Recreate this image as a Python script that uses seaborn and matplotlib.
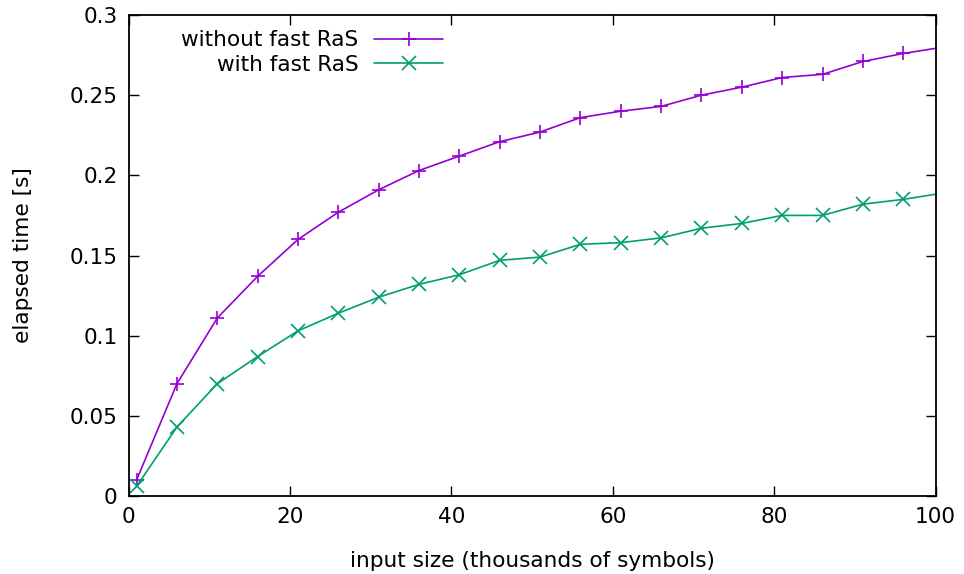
import matplotlib
matplotlib.use("Agg")
import matplotlib.pyplot as plt
import seaborn as sns
import pandas as pd

x_vals = [1, 6, 11, 16, 21, 26, 31, 36, 41, 46, 51, 56, 61, 66, 71, 76, 81, 86, 91, 96, 101]
without_fast = [0.010, 0.070, 0.111, 0.137, 0.160, 0.177, 0.191, 0.203, 0.212, 0.221, 0.227,
                0.236, 0.240, 0.243, 0.250, 0.255, 0.261, 0.263, 0.271, 0.276, 0.280]
with_fast = [0.006, 0.043, 0.070, 0.087, 0.103, 0.114, 0.124, 0.132, 0.138, 0.147, 0.149,
             0.157, 0.158, 0.161, 0.167, 0.170, 0.175, 0.175, 0.182, 0.185, 0.189]
series_names = ["without fast RaS", "with fast RaS"]
x_ticks = [0, 20, 40, 60, 80, 100]
y_ticks = [0, 0.05, 0.1, 0.15, 0.2, 0.25, 0.3]
y_tick_labels = ["0", "0.05", "0.1", "0.15", "0.2", "0.25", "0.3"]

df = pd.DataFrame({
    "x": x_vals * 2,
    "y": without_fast + with_fast,
    "series": [series_names[0]] * len(x_vals) + [series_names[1]] * len(x_vals),
})

sns.set_style("ticks")
plt.rcParams["font.family"] = ["DejaVu Sans"]
plt.rcParams["text.color"] = "black"
plt.rcParams["axes.labelcolor"] = "black"

FS = 15.6

fig = plt.figure(figsize=(9.64, 5.74), dpi=100)
ax = fig.add_axes([128.5 / 964, 1 - 496 / 574, 807 / 964, 481 / 574])

palette = {series_names[0]: "#9400D3", series_names[1]: "#009E73"}
markers = {series_names[0]: "+", series_names[1]: "x"}
sns.lineplot(data=df, x="x", y="y", hue="series", style="series", palette=palette,
             markers=markers, dashes=False, markersize=10, markeredgewidth=1.2,
             linewidth=1.2, ax=ax)

for ln in ax.lines:
    ln.set_markeredgecolor(ln.get_color())

ax.set_xlim(0, 100)
ax.set_ylim(0, 0.3)
ax.set_xticks(x_ticks)
ax.set_xticklabels([str(t) for t in x_ticks])
ax.set_yticks(y_ticks)
ax.set_yticklabels(y_tick_labels)
ax.tick_params(direction="in", length=7, width=1, top=True, right=True,
               labelsize=FS, pad=8, colors="black")
for s in ax.spines.values():
    s.set_visible(True)
    s.set_linewidth(1.3)
    s.set_color("black")
ax.set_xlabel("input size (thousands of symbols)", fontsize=FS, labelpad=17)
ax.set_ylabel("elapsed time [s]", fontsize=FS, labelpad=26)

handles, labels = ax.get_legend_handles_labels()
leg = ax.legend(handles, labels, loc="upper right", bbox_to_anchor=(0.39, 0.968),
                frameon=False, markerfirst=False, fontsize=FS, handlelength=3.2,
                borderpad=0, borderaxespad=0, labelspacing=0.2, handletextpad=0.7)
for h in leg.legend_handles:
    h.set_markeredgecolor(h.get_color())
    h.set_markersize(10)
    h.set_markeredgewidth(1.2)

fig.savefig("out.png", dpi=100)
